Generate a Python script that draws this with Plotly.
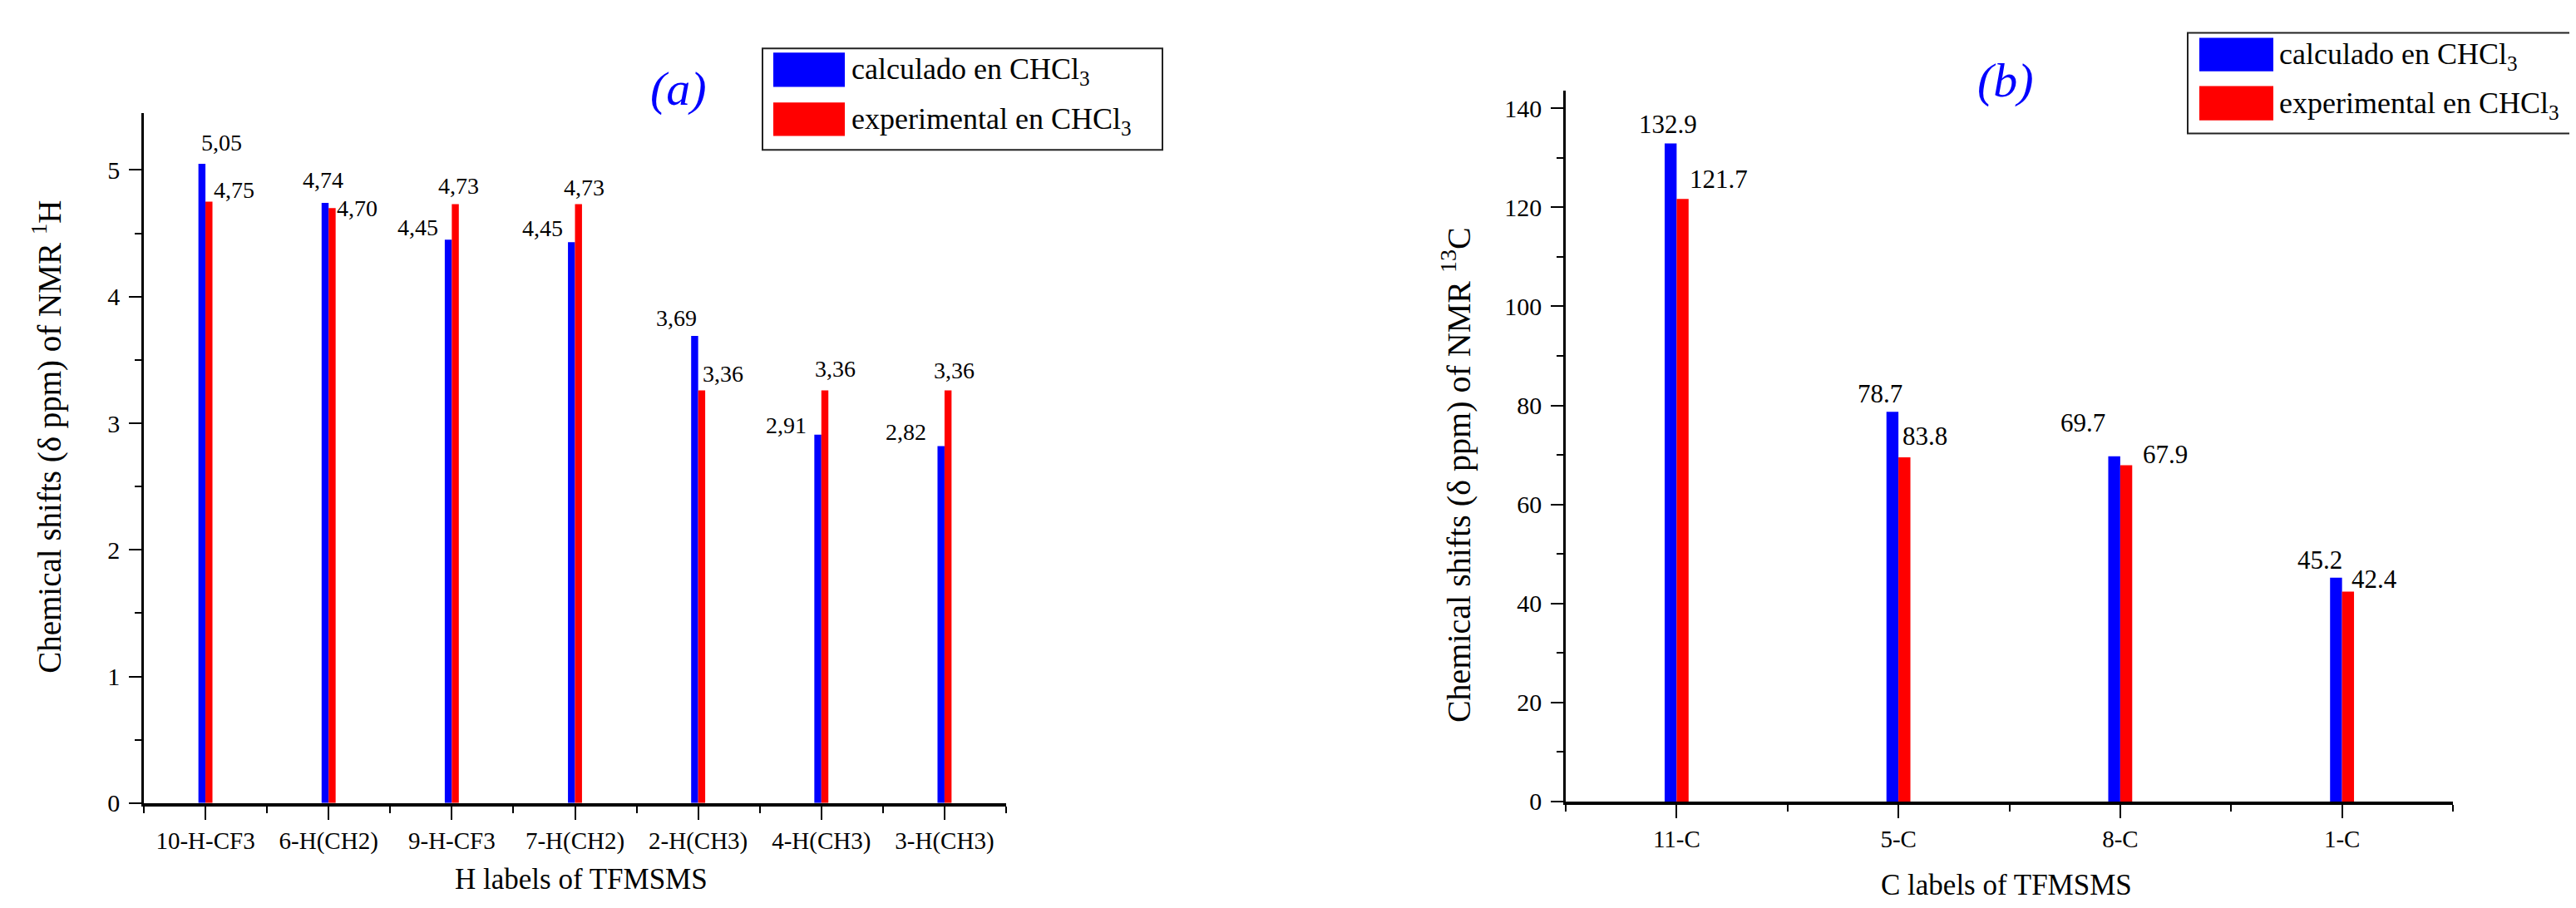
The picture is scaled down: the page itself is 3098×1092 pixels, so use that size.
import plotly.graph_objects as go

# ---------------- data ----------------
cats_h = ["10-H-CF3", "6-H(CH2)", "9-H-CF3", "7-H(CH2)", "2-H(CH3)", "4-H(CH3)", "3-H(CH3)"]
calc_h = [5.05, 4.74, 4.45, 4.43, 3.69, 2.91, 2.82]
exp_h = [4.75, 4.70, 4.73, 4.73, 3.26, 3.26, 3.26]
calc_h_text = ["5,05", "4,74", "4,45", "4,45", "3,69", "2,91", "2,82"]
exp_h_text = ["4,75", "4,70", "4,73", "4,73", "3,36", "3,36", "3,36"]

cats_c = ["11-C", "5-C", "8-C", "1-C"]
calc_c = [132.9, 78.7, 69.7, 45.2]
exp_c = [121.7, 69.5, 67.9, 42.4]
calc_c_text = ["132.9", "78.7", "69.7", "45.2"]
exp_c_text = ["121.7", "83.8", "67.9", "42.4"]

legend_names = ["calculado en CHCl<sub>3</sub>", "experimental en CHCl<sub>3</sub>"]

# ---------------- style ----------------
W, H = 3098, 1092
FONT = "Liberation Serif"
BLUE, RED = "#0000FF", "#FF0000"

# label placement (anchor, x shift px, y shift px)
pos_calc_h = [("left", -7, 8), ("center", -7, 10), ("right", -14, -3), ("right", -13, -1),
              ("right", 0, 4), ("right", -16, -6), ("right", -20, -1)]
pos_exp_h = [("left", 8, -3), ("mid", 8, 0), ("center", 8, 5), ("center", 11, 3),
             ("left", 3, 2), ("center", 17, 8), ("center", 12, 6)]
pos_calc_c = [("center", -10, 4), ("right", 7, 2), ("right", -16, 21), ("right", 2, 2)]
pos_exp_c = [("left", 14, 4), ("left", 3, 6), ("left", 25, -6), ("left", 9, -5)]


def px(x):
    return x / W


def py(y):
    return 1 - y / H


fig = go.Figure()

wh = 0.057
wc = 0.054
xh = list(range(len(cats_h)))
xc = list(range(len(cats_c)))

fig.add_trace(go.Bar(x=xh, y=calc_h, width=wh, offset=-wh, marker=dict(color=BLUE, line=dict(width=0)),
                     name=legend_names[0], xaxis="x", yaxis="y", showlegend=False))
fig.add_trace(go.Bar(x=xh, y=exp_h, width=wh, offset=0, marker=dict(color=RED, line=dict(width=0)),
                     name=legend_names[1], xaxis="x", yaxis="y", showlegend=False))
fig.add_trace(go.Bar(x=xc, y=calc_c, width=wc, offset=-wc, marker=dict(color=BLUE, line=dict(width=0)),
                     name=legend_names[0], xaxis="x2", yaxis="y2", showlegend=False))
fig.add_trace(go.Bar(x=xc, y=exp_c, width=wc, offset=0, marker=dict(color=RED, line=dict(width=0)),
                     name=legend_names[1], xaxis="x2", yaxis="y2", showlegend=False))

annotations = []


def value_labels(xs, ys, texts, placements, xref, yref, size):
    for x, y, t, (anc, dx, dy) in zip(xs, ys, texts, placements):
        if anc == "mid":
            xa, ya = "left", "middle"
        else:
            xa, ya = anc, "bottom"
        annotations.append(dict(x=x, y=y, xref=xref, yref=yref, text=t, showarrow=False,
                                xanchor=xa, yanchor=ya, xshift=dx, yshift=dy,
                                font=dict(family=FONT, size=size, color="black")))


value_labels(xh, calc_h, calc_h_text, pos_calc_h, "x", "y", 28)
value_labels(xh, exp_h, exp_h_text, pos_exp_h, "x", "y", 28)
value_labels(xc, calc_c, calc_c_text, pos_calc_c, "x2", "y2", 31)
value_labels(xc, exp_c, exp_c_text, pos_exp_c, "x2", "y2", 31)


def paper_text(x, y, text, size, color="black", angle=0):
    annotations.append(dict(x=px(x), y=py(y), xref="paper", yref="paper", text=text, textangle=angle,
                            showarrow=False, xanchor="center", yanchor="middle",
                            font=dict(family=FONT, size=size, color=color)))


# axis titles and panel tags
paper_text(49, 526, "Chemical shifts (δ ppm) of NMR <sup>1</sup>H", 39, angle=-90)
paper_text(1743, 572, "Chemical shifts (δ ppm) of NMR <sup>13</sup>C", 40, angle=-90)
paper_text(691, 1066, "H labels of TFMSMS", 35)
paper_text(2405, 1073, "C labels of TFMSMS", 35)
paper_text(808, 100, "<i>(a)</i>", 58, color=BLUE)
paper_text(2404, 90, "<i>(b)</i>", 58, color=BLUE)

# manual legends
shapes = []


def legend_box(x0, x1, y0, y1, sw_x0, sw_x1, rows, text_x):
    shapes.append(dict(type="rect", xref="paper", yref="paper", x0=px(x0), x1=px(x1), y0=py(y1), y1=py(y0),
                       line=dict(color="#222222", width=2), fillcolor="white", layer="above"))
    for (ya, yb), color, name in rows:
        shapes.append(dict(type="rect", xref="paper", yref="paper", x0=px(sw_x0), x1=px(sw_x1),
                           y0=py(yb), y1=py(ya), line=dict(width=0), fillcolor=color, layer="above"))
        annotations.append(dict(x=px(text_x), y=py((ya + yb) / 2 + 2), xref="paper", yref="paper", text=name,
                                showarrow=False, xanchor="left", yanchor="middle",
                                font=dict(family=FONT, size=36, color="black")))


legend_box(909, 1390, 51, 175, 922, 1008,
           [((56, 98), BLUE, legend_names[0]), ((117, 158), RED, legend_names[1])], 1014)
legend_box(2623, 3120, 32, 155, 2637, 2726,
           [((38, 79), BLUE, legend_names[0]), ((97, 139), RED, legend_names[1])], 2731)

common_x = dict(showgrid=False, zeroline=False, showline=True, linecolor="black", linewidth=4,
                ticks="outside", ticklen=16, tickwidth=2, tickcolor="black", tickmode="array",
                tickfont=dict(family=FONT, size=29, color="black"), fixedrange=True)
common_y = dict(showgrid=False, zeroline=False, showline=True, linecolor="black", linewidth=2.5,
                ticks="outside", ticklen=15, tickwidth=2, tickcolor="black", ticklabelstandoff=5,
                tickfont=dict(family=FONT, size=30, color="black"), fixedrange=True)
minor_tick = dict(ticks="outside", ticklen=8, tickwidth=2, tickcolor="black")

fig.update_layout(
    width=W, height=H,
    margin=dict(l=0, r=0, t=0, b=0),
    paper_bgcolor="white", plot_bgcolor="white",
    barmode="overlay",
    showlegend=False,
    xaxis=dict(domain=[px(165), px(1202)], range=[-0.5, len(cats_h) - 0.5],
               tickvals=xh, ticktext=cats_h, anchor="y",
               minor=dict(tickmode="array", tickvals=[i - 0.5 for i in range(len(cats_h) + 1)], **minor_tick),
               **common_x),
    yaxis=dict(domain=[py(973), py(130)], range=[0, 5.45], dtick=1, tick0=0, anchor="x",
               minor=dict(dtick=0.5, tick0=0, **minor_tick),
               **common_y),
    xaxis2=dict(domain=[px(1875), px(2942)], range=[-0.5, len(cats_c) - 0.5],
                tickvals=xc, ticktext=cats_c, anchor="y2",
                minor=dict(tickmode="array", tickvals=[i - 0.5 for i in range(len(cats_c) + 1)], **minor_tick),
                **common_x),
    yaxis2=dict(domain=[py(971), py(103)], range=[0, 143.5], dtick=20, tick0=0, anchor="x2",
                minor=dict(dtick=10, tick0=0, **minor_tick),
                **common_y),
    annotations=annotations,
    shapes=shapes,
)

fig.write_html("out.html")
